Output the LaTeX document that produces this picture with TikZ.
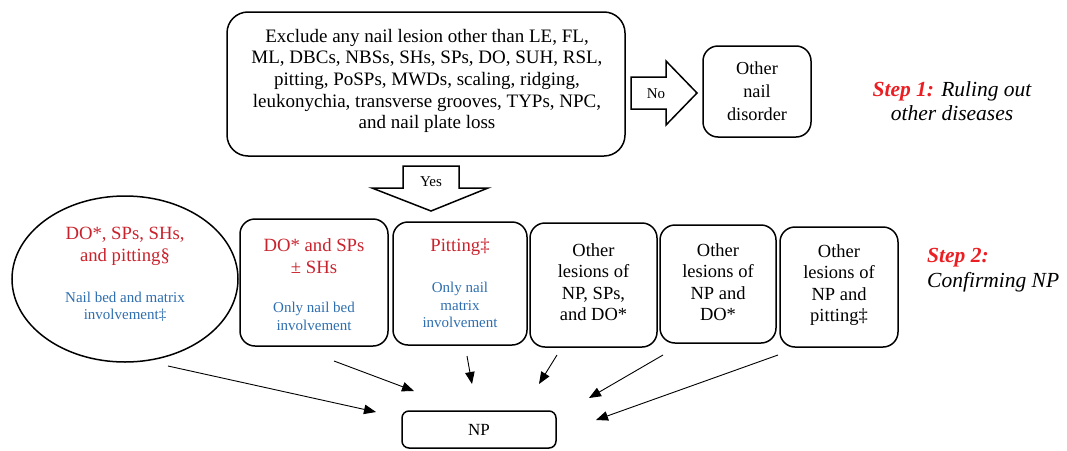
\documentclass[tikz,border=0pt]{standalone}
\usepackage{fontspec}
\setmainfont{Liberation Serif}
\usetikzlibrary{arrows.meta,shapes.geometric}
\definecolor{boxred}{RGB}{200,35,45}
\definecolor{stepred}{RGB}{235,30,35}
\definecolor{boxblue}{RGB}{46,110,175}
\tikzset{
  rbox/.style={draw, line width=1.5pt, rounded corners=15pt, inner sep=0pt},
  txt/.style={align=center, inner sep=0pt},
  bigtxt/.style={txt, font=\fontsize{18.5}{21.5}\selectfont},
  redtxt/.style={txt, text=boxred, font=\fontsize{18.7}{22}\selectfont},
  bluetxt/.style={txt, text=boxblue, font=\fontsize{15}{17.3}\selectfont},
  steptxt/.style={inner sep=0pt, font=\fontsize{21.5}{24.5}\selectfont\itshape},
  blockarrow/.style={draw, line width=1.5pt, fill=white, line join=miter},
  arrowlbl/.style={inner sep=0pt, font=\fontsize{15}{17}\selectfont},
  thinarrow/.style={-{Triangle[length=12pt,width=9.5pt]}, line width=0.9pt}
}
\begin{document}
\begin{tikzpicture}[x=1pt,y=-1pt]
\useasboundingbox (0,0) rectangle (1067,450);

% Step 1
\node[rbox, rounded corners=21pt, minimum width=398pt, minimum height=144pt] (top) at (426,84) {};
\node[txt, font=\fontsize{19}{21.7}\selectfont] (toptext) at (427,81)
  {Exclude any nail lesion other than LE, FL,\\
   ML, DBCs, NBSs, SHs, SPs, DO, SUH, RSL,\\
   pitting, PoSPs, MWDs, scaling, ridging,\\
   leukonychia, transverse grooves, TYPs, NPC,\\
   and nail plate loss};

\node[rbox, minimum width=108pt, minimum height=91pt, bigtxt, inner sep=0pt,
      font=\fontsize{18.3}{23}\selectfont] (other) at (757,91.5)
  {Other\\nail\\disorder};

% No block arrow
\draw[blockarrow] (631,77) -- (666,77) -- (666,61) -- (697,93) -- (666,125)
  -- (666,109) -- (631,109) -- cycle;
\node[arrowlbl] (nolbl) at (656,94) {No};

% Yes block arrow
\draw[blockarrow] (403,166) -- (459,166) -- (459,188) -- (488,188) -- (431,211)
  -- (372,188) -- (403,188) -- cycle;
\node[arrowlbl] (yeslbl) at (431,182) {Yes};

\node[steptxt, align=center] (step1) at (952,101)
  {{\color{stepred}\bfseries Step 1:} Ruling out\\other diseases};

% Step 2 row
\node[draw, line width=1.5pt, ellipse, minimum width=226pt, minimum height=166pt,
      inner sep=0pt] (ell) at (125,279) {};
\node[redtxt] (ellr) at (125,246) {DO*, SPs, SHs,\\and pitting§};
\node[bluetxt] (ellb) at (125,307) {Nail bed and matrix\\involvement‡};

\node[rbox, minimum width=148pt, minimum height=127pt] (b2) at (314,282.5) {};
\node[redtxt] (b2r) at (314,256) {DO* and SPs\\± SHs};
\node[bluetxt] (b2b) at (314,316.5) {Only nail bed\\involvement};

\node[rbox, minimum width=134pt, minimum height=123pt] (b3) at (460,283.5) {};
\node[redtxt] (b3r) at (460,247) {Pitting‡};
\node[bluetxt] (b3b) at (460,305) {Only nail\\matrix\\involvement};

\node[rbox, minimum width=127pt, minimum height=124pt] (b4) at (593.5,285) {};
\node[bigtxt] (b4t) at (593.5,282) {Other\\lesions of\\NP, SPs,\\and DO*};

\node[rbox, minimum width=116pt, minimum height=118pt] (b5) at (718,284) {};
\node[bigtxt] (b5t) at (718,282) {Other\\lesions of\\NP and\\DO*};

\node[rbox, minimum width=118pt, minimum height=120pt] (b6) at (839,287) {};
\node[bigtxt] (b6t) at (839,285) {Other\\lesions of\\NP and\\pitting‡};

\node[steptxt, anchor=west, align=left] (step2) at (927,270)
  {{\color{stepred}\bfseries Step 2:}\\Confirming NP};

% NP
\node[rbox, rounded corners=7pt, minimum width=154pt, minimum height=37pt,
      font=\fontsize{17}{20}\selectfont] (np) at (479,429.5) {NP};

% arrows to NP
\coordinate (s1) at (168,366); \coordinate (e1) at (376,412);
\coordinate (s2) at (334,361); \coordinate (e2) at (414,391);
\coordinate (s3) at (467,356); \coordinate (e3) at (472,384);
\coordinate (s4) at (557,355); \coordinate (e4) at (539,384);
\coordinate (s5) at (663,355); \coordinate (e5) at (589,398);
\coordinate (s6) at (778,355); \coordinate (e6) at (596,420);
\foreach \i in {1,...,6} \draw[thinarrow] (s\i) -- (e\i);
\end{tikzpicture}
\end{document}
